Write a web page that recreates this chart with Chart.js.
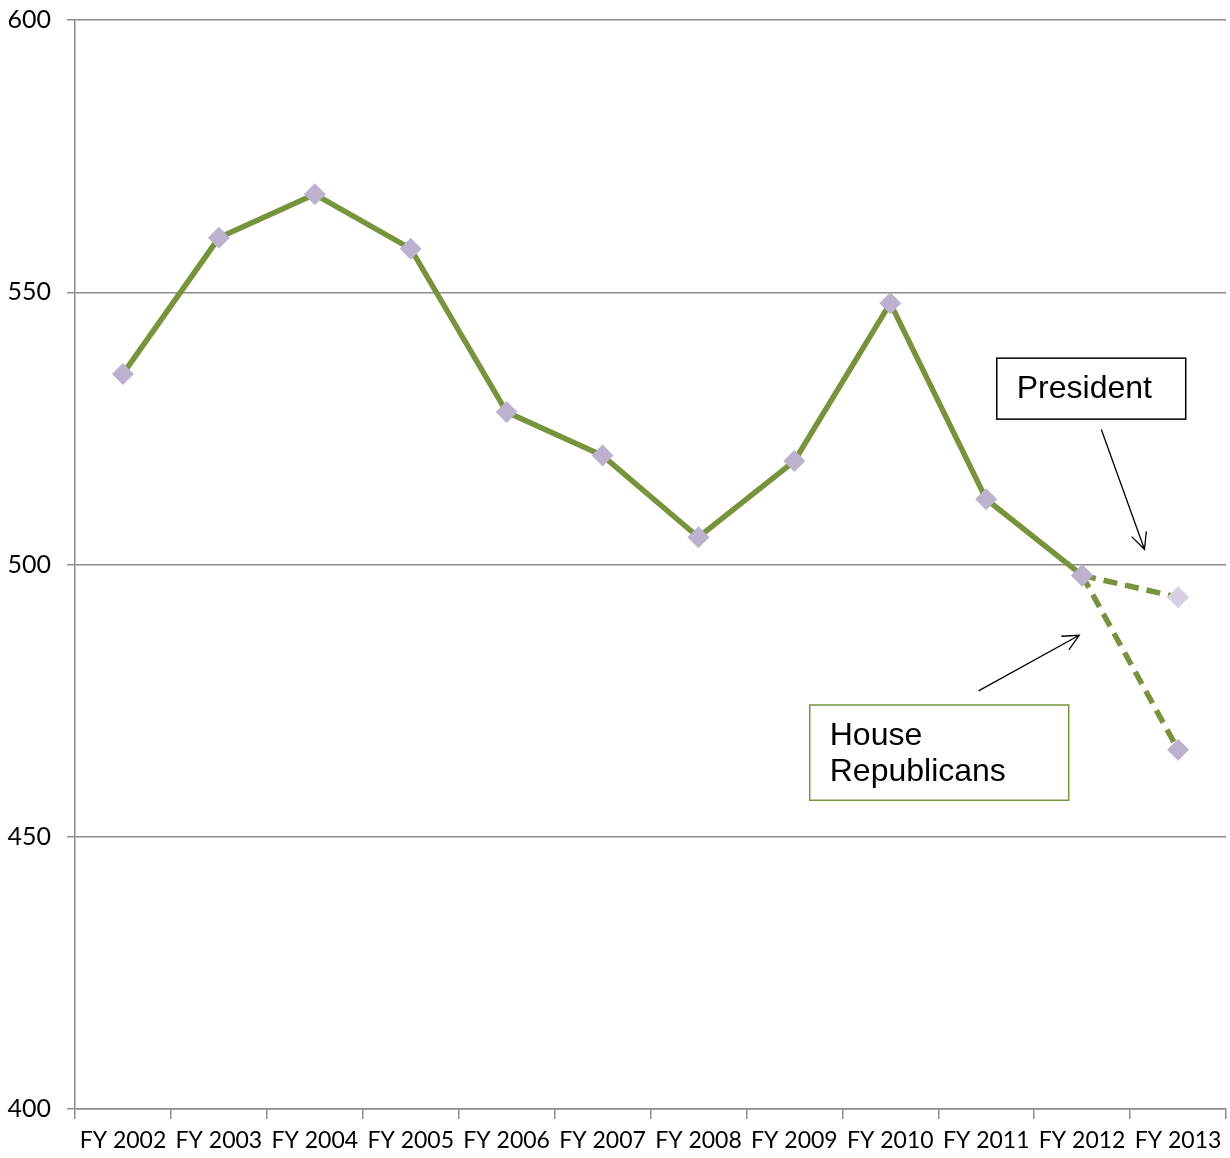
<!DOCTYPE html>
<html>
<head>
  <meta charset="UTF-8">
  <title>FY 2002 - FY 2013</title>
  <script src="https://cdn.jsdelivr.net/npm/chart.js"></script>
  <style>
    body { margin: 0; background: #fff; }
    #wrap { width: 1230px; height: 1158px; }
  </style>
</head>
<body>
  <div id="wrap"><canvas id="chart" width="1230" height="1158"></canvas></div>

  <script>
    // Data
    const years = ['FY 2002', 'FY 2003', 'FY 2004', 'FY 2005', 'FY 2006', 'FY 2007',
                   'FY 2008', 'FY 2009', 'FY 2010', 'FY 2011', 'FY 2012', 'FY 2013'];
    const actual = [535, 560, 568, 558, 528, 520, 505, 519, 548, 512, 498, null];
    const president = [null, null, null, null, null, null, null, null, null, null, 498, 494];
    const houseRepublicans = [null, null, null, null, null, null, null, null, null, null, 498, 466];
    const yTicks = [400, 450, 500, 550, 600];

    const green = '#77933c';
    const marker = '#bcb1cf';

    // annotation boxes + arrows, placed in data units (category index, value)
    const notes = [
      { lines: ['President'], box: [9.11, 537.9, 11.08, 526.7], border: '#000', arrow: [10.2, 524.8, 10.65, 502.8] },
      { lines: ['House', 'Republicans'], box: [7.16, 474.2, 9.86, 456.7], border: green, arrow: [8.92, 476.8, 9.97, 487.0] }
    ];

    const notesPlugin = {
      id: 'notes',
      afterDatasetsDraw(chart) {
        const { ctx, scales: { x, y } } = chart;
        ctx.save();
        notes.forEach(n => {
          const x1 = x.getPixelForValue(n.box[0]), y1 = y.getPixelForValue(n.box[1]);
          const x2 = x.getPixelForValue(n.box[2]), y2 = y.getPixelForValue(n.box[3]);
          ctx.fillStyle = '#fff';
          ctx.fillRect(x1, y1, x2 - x1, y2 - y1);
          ctx.strokeStyle = n.border;
          ctx.lineWidth = 1.5;
          ctx.strokeRect(x1, y1, x2 - x1, y2 - y1);
          ctx.fillStyle = '#000';
          ctx.font = '32px "Liberation Sans", Arial, sans-serif';
          ctx.textBaseline = 'alphabetic';
          n.lines.forEach((t, i) => ctx.fillText(t, x1 + 20, y1 + 40 + i * 36));

          // arrow
          const ax1 = x.getPixelForValue(n.arrow[0]), ay1 = y.getPixelForValue(n.arrow[1]);
          const ax2 = x.getPixelForValue(n.arrow[2]), ay2 = y.getPixelForValue(n.arrow[3]);
          ctx.strokeStyle = '#000';
          ctx.lineWidth = 1.3;
          ctx.beginPath();
          ctx.moveTo(ax1, ay1);
          ctx.lineTo(ax2, ay2);
          const a = Math.atan2(ay2 - ay1, ax2 - ax1), h = 18;
          ctx.moveTo(ax2 - h * Math.cos(a - 0.45), ay2 - h * Math.sin(a - 0.45));
          ctx.lineTo(ax2, ay2);
          ctx.lineTo(ax2 - h * Math.cos(a + 0.45), ay2 - h * Math.sin(a + 0.45));
          ctx.stroke();
        });
        ctx.restore();
      }
    };

    const ctx = document.getElementById('chart').getContext('2d');
    new Chart(ctx, {
      type: 'line',
      data: {
        labels: years,
        datasets: [
          {
            label: 'President',
            data: president,
            borderColor: green,
            borderWidth: 5.5,
            borderDash: [14, 8],
            pointStyle: 'rectRot',
            pointRadius: 11,
            pointBackgroundColor: ['#fff', '#fff', '#fff', '#fff', '#fff', '#fff', '#fff', '#fff', '#fff', '#fff', marker, '#d6d0e2'],
            pointBorderWidth: 0
          },
          {
            label: 'House Republicans',
            data: houseRepublicans,
            borderColor: green,
            borderWidth: 5.5,
            borderDash: [14, 8],
            pointStyle: 'rectRot',
            pointRadius: 11,
            pointBackgroundColor: marker,
            pointBorderWidth: 0
          },
          {
            label: 'Actual',
            data: actual,
            borderColor: green,
            borderWidth: 5.5,
            pointStyle: 'rectRot',
            pointRadius: 11,
            pointBackgroundColor: marker,
            pointBorderWidth: 0
          }
        ]
      },
      options: {
        responsive: false,
        animation: false,
        layout: { autoPadding: false, padding: { top: 20, right: 4, left: 0, bottom: 0 } },
        plugins: { legend: { display: false }, tooltip: { enabled: false } },
        scales: {
          x: {
            offset: true,
            grid: { offset: true, drawOnChartArea: false, drawTicks: true, tickLength: 10, color: '#8c8c8c', lineWidth: 1.5 },
            border: { color: '#8c8c8c', width: 1.5 },
            ticks: { color: '#000', font: { family: 'Lato, "Open Sans", sans-serif', size: 23 }, padding: 8, maxRotation: 0, autoSkip: false },
            afterFit(scale) { scale.height = 49; scale.paddingLeft = 0; scale.paddingRight = 0; }
          },
          y: {
            min: 400,
            max: 600,
            afterBuildTicks(scale) { scale.ticks = yTicks.map(v => ({ value: v })); },
            grid: { color: '#8c8c8c', lineWidth: 1.5, tickLength: 8 },
            border: { color: '#8c8c8c', width: 1.5 },
            ticks: { color: '#000', font: { family: 'Lato, "Open Sans", sans-serif', size: 25 }, padding: 16 },
            afterFit(scale) { scale.width = 75; scale.paddingTop = 0; scale.paddingBottom = 0; }
          }
        }
      },
      plugins: [notesPlugin]
    });
  </script>
</body>
</html>
